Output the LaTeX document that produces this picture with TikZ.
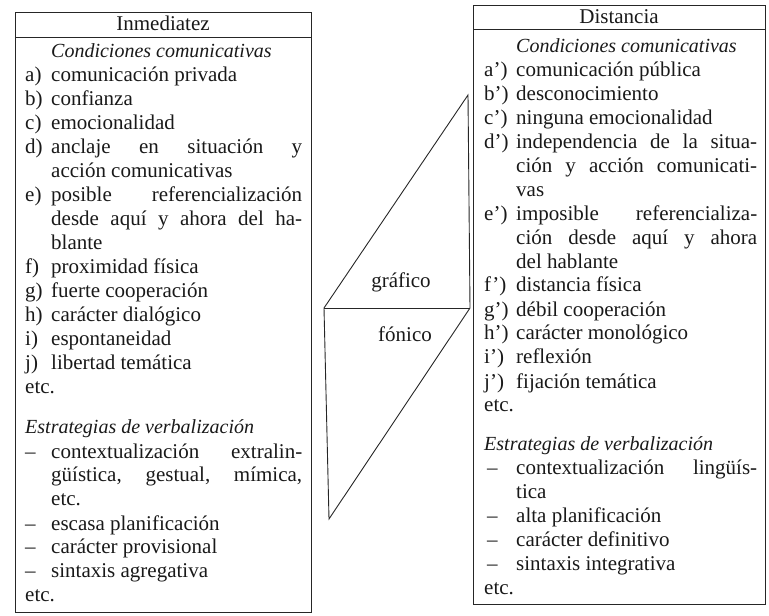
\documentclass[tikz,border=0pt]{standalone}
\usepackage{fontspec}
\setmainfont{Liberation Serif}
\newlength\colw
\newlength\indw
\newcommand\NL[2]{\hbox to \colw{\hbox to \indw{#1\hss}#2\hss}}
\newcommand\JL[2]{\hbox to \colw{\hbox to \indw{#1\hss}\makebox[\dimexpr\colw-\indw\relax][s]{#2}}}
\newcommand\FL[1]{\hbox to \colw{#1\hss}}
\newcommand\hd[1]{{\fontsize{20}{24}\selectfont\itshape #1}}
\begin{document}
\begin{tikzpicture}[x=1pt,y=-1pt,
  boxline/.style={draw=black!85,line width=0.9pt},
  shapeline/.style={draw=black!85,line width=0.9pt,line join=miter},
  txt/.style={inner sep=0pt,text=black!90,font=\fontsize{21}{24}\selectfont}]
\useasboundingbox (0,0) rectangle (769,616);
% left box
\draw[boxline] (15,12) rectangle (311,612);
\draw[boxline] (15,37) -- (311,37);
% right box
\draw[boxline] (473,5) rectangle (765,604);
\draw[boxline] (473,29) -- (765,29);
% headers
\node[txt,anchor=base] (lhead) at (163,30) {Inmediatez};
\node[txt,anchor=base] (rhead) at (619,23) {Distancia};
% left body
\node[txt,anchor=base west] (lbody) at (25,57) {\vtop{\colw=277pt\indw=26pt\hsize=\colw
  \baselineskip=24pt\lineskiplimit=-100pt\lineskip=0pt
  \NL{}{\hd{Condiciones comunicativas}}
  \NL{a)}{comunicación privada}
  \NL{b)}{confianza}
  \NL{c)}{emocionalidad}
  \JL{d)}{anclaje en situación y}
  \NL{}{acción comunicativas}
  \JL{e)}{posible referencialización}
  \JL{}{desde aquí y ahora del ha-}
  \NL{}{blante}
  \NL{f)}{proximidad física}
  \NL{g)}{fuerte cooperación}
  \NL{h)}{carácter dialógico}
  \NL{i)}{espontaneidad}
  \NL{j)}{libertad temática}
  \FL{etc.}
  \vskip 17pt
  \FL{\hd{Estrategias de verbalización}}
  \JL{–}{contextualización extralin-}
  \JL{}{güística, gestual, mímica,}
  \NL{}{etc.}
  \NL{–}{escasa planificación}
  \NL{–}{carácter provisional}
  \NL{–}{sintaxis agregativa}
  \FL{etc.}}};
% right body
\node[txt,anchor=base west] (rbody) at (484,52) {\vtop{\colw=273pt\indw=32pt\hsize=\colw
  \baselineskip=24pt\lineskiplimit=-100pt\lineskip=0pt
  \NL{}{\hd{Condiciones comunicativas}}
  \NL{a')}{comunicación pública}
  \NL{b')}{desconocimiento}
  \NL{c')}{ninguna emocionalidad}
  \JL{d')}{independencia de la situa-}
  \JL{}{ción y acción comunicati-}
  \NL{}{vas}
  \JL{e')}{imposible referencializa-}
  \JL{}{ción desde aquí y ahora}
  \NL{}{del hablante}
  \NL{f')}{distancia física}
  \NL{g')}{débil cooperación}
  \NL{h')}{carácter monológico}
  \NL{i')}{reflexión}
  \NL{j')}{fijación temática}
  \FL{etc.}
  \vskip 15pt
  \FL{\hd{Estrategias de verbalización}}
  \JL{\hskip3pt–}{contextualización lingüís-}
  \NL{}{tica}
  \NL{\hskip3pt–}{alta planificación}
  \NL{\hskip3pt–}{carácter definitivo}
  \NL{\hskip3pt–}{sintaxis integrativa}
  \FL{etc.}}};
% parallelogram
\coordinate (ul) at (324,308);
\coordinate (tr) at (468,95);
\coordinate (mr) at (470,308);
\coordinate (bl) at (329,519);
\draw[shapeline] (ul) -- (tr) -- (mr) -- (bl) -- cycle;
\draw[shapeline] (ul) -- (mr);
\node[txt] (graf) at (401,282) {gráfico};
\node[txt] (fon) at (405,334) {fónico};
\end{tikzpicture}
\end{document}
